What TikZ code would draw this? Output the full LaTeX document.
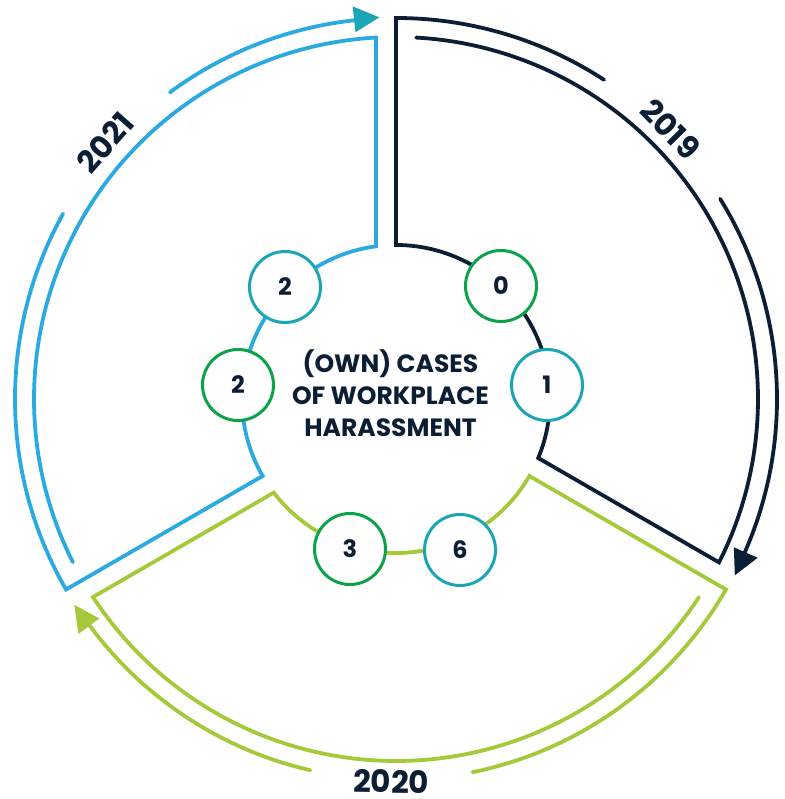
\documentclass[tikz,border=0pt]{standalone}
\usepackage{fontspec}
\setmainfont{Poppins}
\definecolor{navy}{RGB}{11,30,51}
\definecolor{skyblue}{RGB}{43,170,226}
\definecolor{lime}{RGB}{165,201,58}
\definecolor{cgreen}{RGB}{11,162,74}
\definecolor{cteal}{RGB}{28,165,180}
\begin{document}
\begin{tikzpicture}[x=1pt,y=1pt,
  sector/.style={line width=3.8pt, line join=miter, line cap=round},
  numcirc/.style={circle, draw=#1, line width=3pt, fill=white, minimum size=71pt, inner sep=0pt,
    font=\fontsize{24}{24}\selectfont\bfseries, text=navy},
  yearlbl/.style={font=\fontsize{31}{31}\selectfont\bfseries, text=navy, inner sep=0pt}]
\useasboundingbox (-396,-400) rectangle (388,399);

% ---- 2019 (navy) ----
\draw[sector, navy] (56.9:381) arc[start angle=56.9, end angle=90, radius=381]
  -- (90:154) arc[start angle=90, end angle=-22.54, radius=154]
  -- (-26.83:362) arc[start angle=-26.83, end angle=86.8, radius=362];
\draw[sector, navy] (31.7:381) arc[start angle=31.7, end angle=-24, radius=381];
\fill[navy] (-27.5:382) -- (-23.7:369) -- (-23.7:395) -- cycle;

% ---- 2021 (sky blue) ----
\draw[sector, skyblue] (150.9:381) arc[start angle=150.9, end angle=210, radius=381]
  -- (210:154) arc[start angle=210, end angle=97.46, radius=154]
  -- (93.17:362) arc[start angle=93.17, end angle=206.8, radius=362];
\draw[sector, skyblue] (126.4:381) arc[start angle=126.4, end angle=96, radius=381];
\fill[cteal] (92.5:382) -- (96.3:369) -- (96.3:395) -- cycle;

% ---- 2020 (lime) ----
\draw[sector, lime] (281.6:381) arc[start angle=281.6, end angle=330, radius=381]
  -- (330:154) arc[start angle=330, end angle=217.46, radius=154]
  -- (213.17:362) arc[start angle=213.17, end angle=326.8, radius=362];
\draw[sector, lime] (257:381) arc[start angle=257, end angle=216, radius=381];
\fill[lime] (212.6:382) -- (216.5:369) -- (216.5:395) -- cycle;

% ---- year labels ----
\node[yearlbl, rotate=-45.5] (y2019) at (44.5:385) {2019};
\node[yearlbl, rotate=48.6] (y2021) at (138.6:388) {2021};
\node[yearlbl, rotate=-0.7] (y2020) at (269.3:382.5) {2020};

% ---- number circles ----
\node[numcirc=cgreen] (n0) at (105,113) {0};
\node[numcirc=cteal] (n1) at (151,14) {1};
\node[numcirc=cteal] (n2a) at (-111,112) {2};
\node[numcirc=cgreen] (n2b) at (-158,14) {2};
\node[numcirc=cgreen] (n3) at (-46,-150) {3};
\node[numcirc=cteal] (n6) at (64,-151) {6};

% ---- centre title ----
\node[align=center, font=\fontsize{25}{32}\selectfont\bfseries, text=navy] (title) at (-5.5,5.5)
  {(OWN) CASES\\OF WORKPLACE\\HARASSMENT};
\end{tikzpicture}
\end{document}
